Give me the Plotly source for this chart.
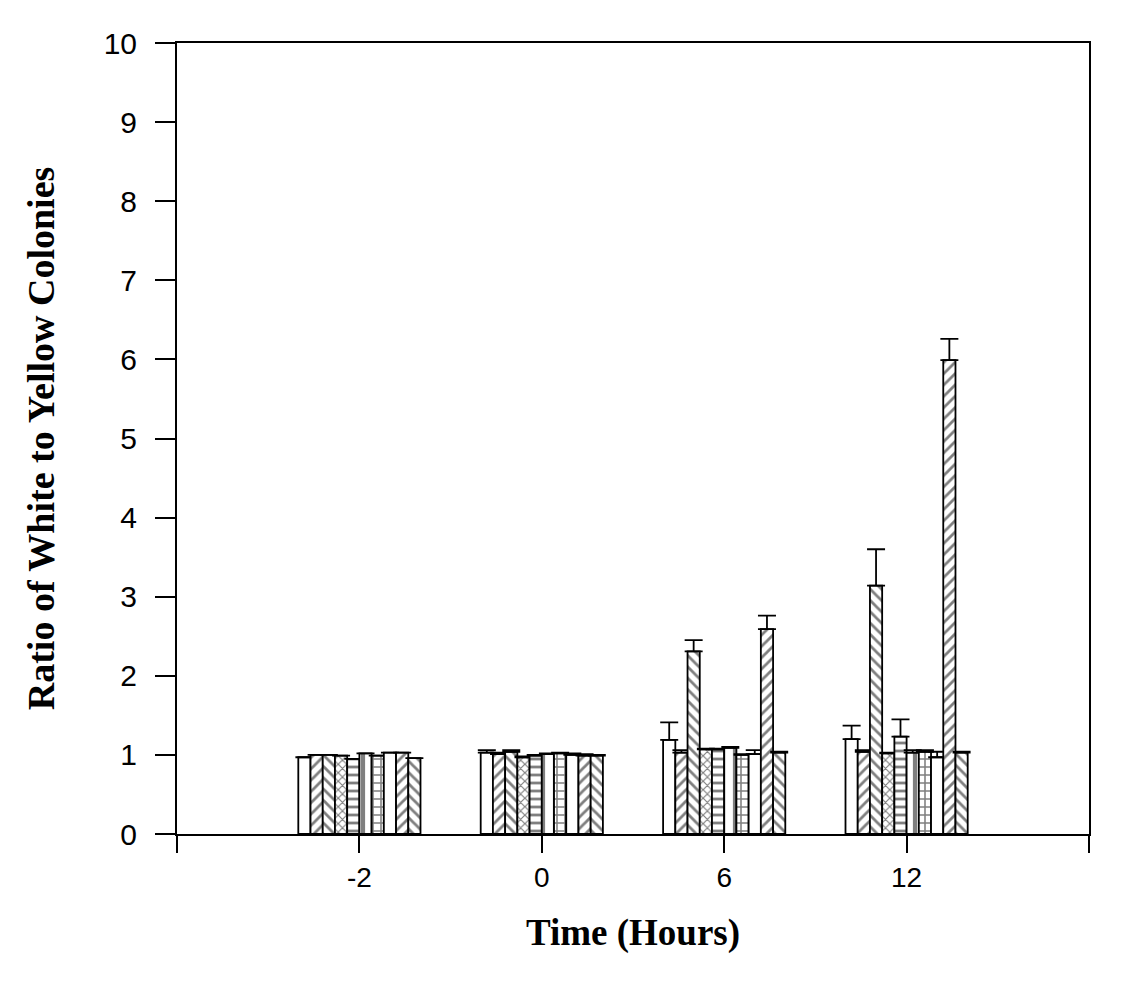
import plotly.graph_objects as go

# categories (time in hours)
times = ["-2", "0", "6", "12"]

# ten series per time point, left to right inside each group
vals_1 = [0.97, 1.03, 1.19, 1.20]
vals_2 = [1.00, 1.01, 1.03, 1.04]
vals_3 = [1.00, 1.04, 2.31, 3.14]
vals_4 = [0.99, 0.97, 1.07, 1.02]
vals_5 = [0.95, 0.99, 1.07, 1.23]
vals_6 = [1.02, 1.01, 1.09, 1.03]
vals_7 = [0.99, 1.02, 1.00, 1.04]
vals_8 = [1.03, 1.00, 1.01, 0.97]
vals_9 = [1.03, 0.99, 2.59, 5.99]
vals_10 = [0.96, 0.99, 1.03, 1.03]

# upper error bars (None = no bar drawn)
err_1 = [None, 0.03, 0.22, 0.17]
err_2 = [None, 0.02, 0.03, 0.02]
err_3 = [None, 0.02, 0.14, 0.46]
err_4 = [None, 0.01, 0.01, 0.01]
err_5 = [None, 0.01, 0.01, 0.22]
err_6 = [None, 0.01, 0.01, 0.03]
err_7 = [None, 0.01, 0.01, 0.02]
err_8 = [None, 0.02, 0.05, 0.07]
err_9 = [None, 0.02, 0.17, 0.27]
err_10 = [None, 0.01, 0.01, 0.01]

series = [
    (vals_1, err_1, ""), (vals_2, err_2, "/"), (vals_3, err_3, "\\"),
    (vals_4, err_4, "x"), (vals_5, err_5, "-"), (vals_6, err_6, "|"),
    (vals_7, err_7, "+"), (vals_8, err_8, ""), (vals_9, err_9, "/"),
    (vals_10, err_10, "\\"),
]
pat_size = {"": 8, "/": 8, "\\": 8, "x": 6, "-": 8, "|": 12, "+": 8}

x_pos = list(range(len(times)))

fig = go.Figure()
for i, (v, e, shape) in enumerate(series):
    fig.add_trace(go.Bar(
        x=x_pos, y=v, name=f"s{i+1}",
        marker=dict(color="white", line=dict(color="black", width=1.8),
                    pattern=dict(shape=shape, fgcolor="black", bgcolor="white",
                                 size=pat_size[shape], solidity=0.35)),
        error_y=dict(type="data", array=e, symmetric=False,
                     arrayminus=[0] * len(e), color="black",
                     thickness=1.8, width=9),
    ))

# page body has an 8px margin, so the figure is shrunk by 8px
fig.update_layout(
    barmode="group", bargap=0.33, bargroupgap=0,
    width=1120, height=979, showlegend=False,
    paper_bgcolor="white", plot_bgcolor="white",
    margin=dict(l=169, r=39, t=35, b=153),
    font=dict(family="Liberation Sans, Arial", color="black"),
)

fig.update_xaxes(
    range=[-1, 4], tickvals=[-1, 0, 1, 2, 3, 4],
    ticktext=[""] + times + [""],
    ticks="outside", ticklen=17, tickwidth=1.8, tickcolor="black",
    showline=True, linecolor="black", linewidth=2, mirror=True,
    showgrid=False, zeroline=False,
    tickfont=dict(size=28, family="Liberation Sans, Arial"),
    title=dict(text="Time (Hours)", standoff=28,
               font=dict(size=37, family="Liberation Serif, Times New Roman", weight="bold")),
)
fig.update_yaxes(
    range=[0, 10], tickvals=list(range(11)),
    ticks="outside", ticklen=20, tickwidth=1.8, tickcolor="black",
    ticklabelstandoff=12,
    showline=True, linecolor="black", linewidth=2, mirror=True,
    showgrid=False, zeroline=False,
    tickfont=dict(size=30, family="Liberation Sans, Arial"),
    title=dict(text="Ratio of White to Yellow Colonies", standoff=37,
               font=dict(size=38, family="Liberation Serif, Times New Roman", weight="bold")),
)

fig.write_html("out.html")
